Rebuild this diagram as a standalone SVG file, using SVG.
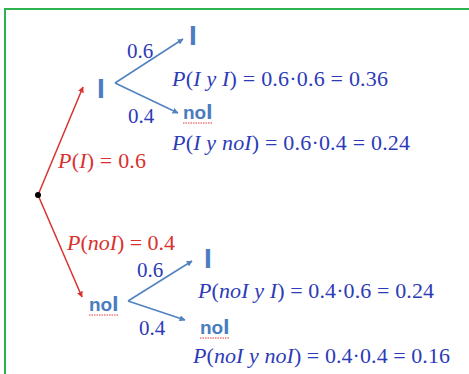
<svg xmlns="http://www.w3.org/2000/svg" width="469" height="374" viewBox="0 0 469 374">
<style>
.eq{font-family:"Liberation Serif","Times New Roman",serif;font-size:22px;fill:#2d3bb8}
.v{font-style:italic}
.red{fill:#d9312f}
.lbl{font-family:"Liberation Serif","Times New Roman",serif;font-size:21px;fill:#2d3bb8}
.node{font-family:"Liberation Sans",Arial,sans-serif;font-weight:bold;fill:#4a7cc0}
.big{font-size:28px}
.small{font-size:19px}
.cap{font-size:22px}
.ln{fill:none;stroke-width:1.5}
.b{stroke:#5282c0}
.r{stroke:#d9312f}
.wavy{fill:none;stroke:#e03a3a;stroke-width:1.2;stroke-dasharray:1.5 1}
</style>
<defs>
<marker id="ab" viewBox="0 0 10 10" refX="9" refY="5" markerWidth="6" markerHeight="6" orient="auto" markerUnits="userSpaceOnUse"><path d="M0,0 L10,5 L0,10 z" fill="#5282c0"/></marker>
<marker id="ar" viewBox="0 0 10 10" refX="9" refY="5" markerWidth="6" markerHeight="6" orient="auto" markerUnits="userSpaceOnUse"><path d="M0,0 L10,5 L0,10 z" fill="#d9312f"/></marker>
</defs>
<rect x="0" y="0" width="469" height="374" fill="#fff"/>
<rect x="5" y="9" width="480" height="380" fill="none" stroke="#2fb350" stroke-width="2"/>

<g id="connectors">
<line class="ln r" x1="38" y1="195" x2="83" y2="87" marker-end="url(#ar)"/>
<line class="ln r" x1="38" y1="195" x2="82" y2="297" marker-end="url(#ar)"/>
<line class="ln b" x1="115" y1="83" x2="183" y2="39" marker-end="url(#ab)"/>
<line class="ln b" x1="115" y1="83" x2="178" y2="113" marker-end="url(#ab)"/>
<line class="ln b" x1="128" y1="301" x2="192" y2="261" marker-end="url(#ab)"/>
<line class="ln b" x1="128" y1="301" x2="185" y2="320" marker-end="url(#ab)"/>
<text class="lbl" x="127" y="58">0.6</text>
<text class="lbl" x="128" y="123">0.4</text>
<text class="lbl" x="137" y="277">0.6</text>
<text class="lbl" x="139" y="335">0.4</text>
<text class="eq red" x="58" y="168" textLength="88" lengthAdjust="spacing"><tspan class="v">P</tspan>(<tspan class="v">I</tspan>) = 0.6</text>
<text class="eq red" x="67" y="250" textLength="108" lengthAdjust="spacing"><tspan class="v">P</tspan>(<tspan class="v">noI</tspan>) = 0.4</text>
</g>

<g id="root"><circle cx="38" cy="195" r="3" fill="#000"/></g>

<g id="node-I"><text class="node big" x="97" y="98">I</text></g>
<g id="node-noI"><text class="node small" x="89" y="311">no<tspan class="cap">I</tspan></text><path class="wavy" d="M89,315 H118"/></g>

<g id="leaf-I-I">
<text class="node big" x="189" y="45">I</text>
<text class="eq" x="172" y="86" textLength="216" lengthAdjust="spacing"><tspan class="v">P</tspan>(<tspan class="v">I</tspan> <tspan class="v">y I</tspan>) = 0.6·0.6 = 0.36</text>
</g>
<g id="leaf-I-noI">
<text class="node small" x="183" y="119">no<tspan class="cap">I</tspan></text><path class="wavy" d="M183,123 H212"/>
<text class="eq" x="172" y="150" textLength="238" lengthAdjust="spacing"><tspan class="v">P</tspan>(<tspan class="v">I</tspan> <tspan class="v">y noI</tspan>) = 0.6·0.4 = 0.24</text>
</g>
<g id="leaf-noI-I">
<text class="node big" x="204" y="268">I</text>
<text class="eq" x="198" y="298" textLength="236" lengthAdjust="spacing"><tspan class="v">P</tspan>(<tspan class="v">noI</tspan> <tspan class="v">y I</tspan>) = 0.4·0.6 = 0.24</text>
</g>
<g id="leaf-noI-noI">
<text class="node small" x="200" y="334">no<tspan class="cap">I</tspan></text><path class="wavy" d="M200,338 H229"/>
<text class="eq" x="193" y="363" textLength="257" lengthAdjust="spacing"><tspan class="v">P</tspan>(<tspan class="v">noI</tspan> <tspan class="v">y noI</tspan>) = 0.4·0.4 = 0.16</text>
</g>
</svg>
